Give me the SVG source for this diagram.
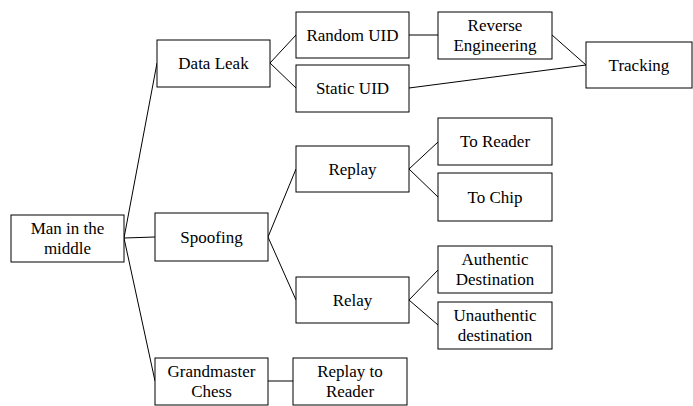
<svg xmlns="http://www.w3.org/2000/svg" width="693" height="406" viewBox="0 0 693 406" font-family="'Liberation Serif', 'Times New Roman', serif">
<style>
rect{fill:#fff;stroke:#000;stroke-width:1}
text{font-family:'Liberation Serif','Times New Roman',serif;font-size:17px;fill:#000;text-anchor:middle}
.c line{stroke:#000;stroke-width:1}
</style>
<rect x="0" y="0" width="693" height="406" style="stroke:none"/>
<g class="c" id="connectors">
<line x1="124" y1="238" x2="157" y2="63"/>
<line x1="124" y1="238" x2="155" y2="237"/>
<line x1="124" y1="238" x2="155" y2="381"/>
<line x1="270" y1="63" x2="296" y2="35"/>
<line x1="270" y1="63" x2="296" y2="88"/>
<line x1="409" y1="35" x2="438" y2="35"/>
<line x1="552" y1="35" x2="586" y2="65"/>
<line x1="409" y1="88" x2="586" y2="65"/>
<line x1="268" y1="237" x2="296" y2="169"/>
<line x1="268" y1="237" x2="296" y2="300"/>
<line x1="409" y1="169" x2="438" y2="142"/>
<line x1="409" y1="169" x2="438" y2="197"/>
<line x1="409" y1="300" x2="438" y2="270"/>
<line x1="409" y1="300" x2="438" y2="325"/>
<line x1="268" y1="381" x2="293" y2="381"/>
</g>
<g id="mitm"><rect x="11" y="215" width="113" height="47"/><text x="67.5" y="234">Man in the</text><text x="67.5" y="254">middle</text></g>
<g id="dataleak"><rect x="157" y="40" width="113" height="47"/><text x="213.5" y="69">Data Leak</text></g>
<g id="spoofing"><rect x="155" y="213" width="113" height="48"/><text x="211.5" y="243">Spoofing</text></g>
<g id="grandmaster"><rect x="155" y="358" width="113" height="47"/><text x="211.5" y="377">Grandmaster</text><text x="211.5" y="397">Chess</text></g>
<g id="randomuid"><rect x="296" y="12" width="113" height="46"/><text x="352.5" y="41">Random UID</text></g>
<g id="staticuid"><rect x="296" y="65" width="113" height="47"/><text x="352.5" y="94">Static UID</text></g>
<g id="reverse"><rect x="438" y="12" width="114" height="47"/><text x="495" y="31">Reverse</text><text x="495" y="51">Engineering</text></g>
<g id="tracking"><rect x="586" y="42" width="106" height="46"/><text x="639" y="71">Tracking</text></g>
<g id="replay"><rect x="296" y="146" width="113" height="46"/><text x="352.5" y="175">Replay</text></g>
<g id="relay"><rect x="296" y="277" width="113" height="46"/><text x="352.5" y="306">Relay</text></g>
<g id="replaytoreader"><rect x="293" y="358" width="114" height="47"/><text x="350" y="377">Replay to</text><text x="350" y="397">Reader</text></g>
<g id="toreader"><rect x="438" y="118" width="114" height="47"/><text x="495" y="147">To Reader</text></g>
<g id="tochip"><rect x="438" y="173" width="114" height="48"/><text x="495" y="203">To Chip</text></g>
<g id="authentic"><rect x="438" y="246" width="114" height="47"/><text x="495" y="265">Authentic</text><text x="495" y="285">Destination</text></g>
<g id="unauthentic"><rect x="438" y="302" width="114" height="47"/><text x="495" y="321">Unauthentic</text><text x="495" y="341">destination</text></g>
</svg>
